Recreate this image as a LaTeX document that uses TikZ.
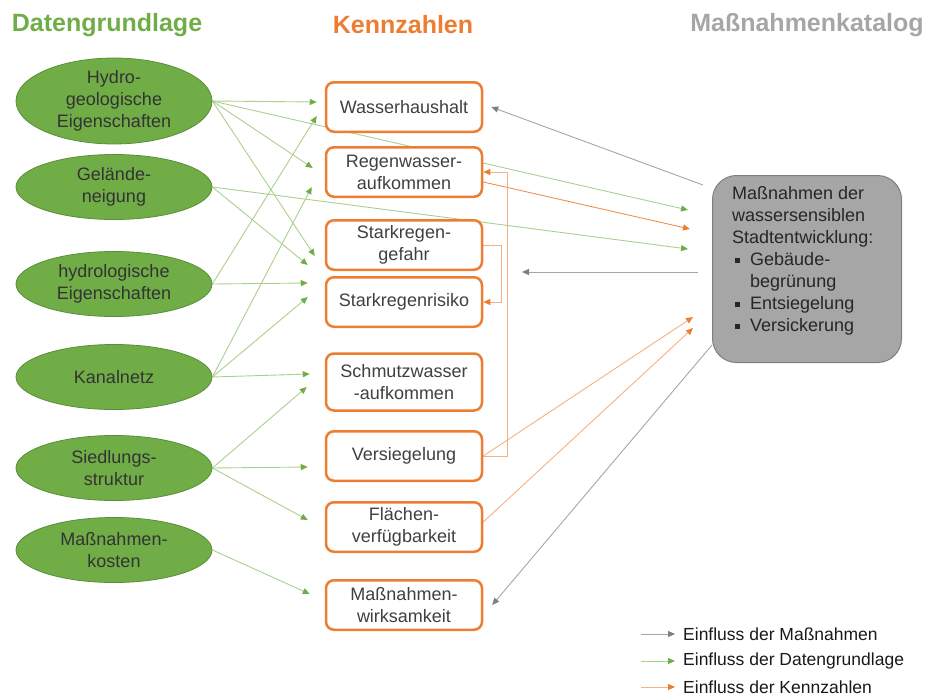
\documentclass[tikz,border=0pt]{standalone}
\usepackage{fontspec}
\setmainfont{Liberation Sans}
\usetikzlibrary{arrows.meta,shapes.geometric,backgrounds}

\definecolor{dgreen}{HTML}{70AD47}
\definecolor{dgreenedge}{HTML}{5A8E38}
\definecolor{dgreenline}{HTML}{A9D18E}
\definecolor{korange}{HTML}{ED7D31}
\definecolor{korangeline}{HTML}{F4B183}
\definecolor{mgray}{HTML}{A6A6A6}
\definecolor{mgraydark}{HTML}{7F7F7F}
\definecolor{txtgray}{HTML}{404040}

\newcommand{\bulsq}{\makebox[18pt][l]{\hspace{3pt}\rule[2.5pt]{5pt}{5pt}}}

\tikzset{
    title/.style={font=\fontsize{25}{30}\selectfont\bfseries},
    data/.style={ellipse, draw=dgreenedge, line width=0.8pt, fill=dgreen,
        minimum width=196pt, minimum height=65pt, inner sep=0pt,
        align=center, text=black!80, font=\fontsize{18}{22}\selectfont},
    kenn/.style={rectangle, rounded corners=8pt, draw=korange, line width=2.5pt,
        fill=white, minimum width=156pt, minimum height=49.5pt, inner sep=0pt,
        align=center, text=txtgray, font=\fontsize{18}{22}\selectfont},
    massbox/.style={rectangle, rounded corners=24pt, draw=mgraydark, line width=1pt,
        fill=mgray, minimum width=189pt, minimum height=187pt},
    masstext/.style={align=left, inner sep=0pt, text=black!85,
        font=\fontsize{18}{22}\selectfont},
    legend/.style={anchor=west, inner sep=0pt, text=black!90,
        font=\fontsize{17.5}{21}\selectfont},
    garrow/.style={draw=dgreenline, line width=0.9pt,
        -{Triangle[length=7pt,width=6pt,color=dgreen]}},
    marrow/.style={draw=mgray, line width=0.9pt,
        -{Triangle[length=7pt,width=6pt,color=mgraydark]}},
    karrow/.style={draw=korangeline, line width=0.9pt,
        -{Triangle[length=7pt,width=6pt,color=korange]}}
}

\begin{document}
\begin{tikzpicture}[x=1pt,y=-1pt]
    \useasboundingbox (0,0) rectangle (939,699);

    % column titles
    \node[title, text=dgreen] (tdaten) at (107,25) {Datengrundlage};
    \node[title, text=korange] (tkenn) at (403,25) {Kennzahlen};
    \node[title, text=mgray] (tmass) at (807,25) {Maßnahmenkatalog};

    % Datengrundlage
    \node[data] (hydro) at (114,101) {Hydro-\\geologische\\Eigenschaften};
    \node[data] (gelaende) at (114,187) {Gelände-\\neigung};
    \node[data] (hydrol) at (114,284) {hydrologische\\Eigenschaften};
    \node[data] (kanal) at (114,377) {Kanalnetz};
    \node[data] (siedl) at (114,468) {Siedlungs-\\struktur};
    \node[data] (kosten) at (114,550) {Maßnahmen-\\kosten};

    % Kennzahlen
    \node[kenn] (wasser) at (404,107) {Wasserhaushalt};
    \node[kenn] (regen) at (404,172) {Regenwasser-\\aufkommen};
    \node[kenn] (gefahr) at (404,245) {Starkregen-\\gefahr};
    \node[kenn] (risiko) at (404,302) {Starkregenrisiko};
    \node[kenn, minimum height=57pt] (schmutz) at (404,382) {Schmutzwasser\\-aufkommen};
    \node[kenn] (versieg) at (404,456) {Versiegelung};
    \node[kenn] (flaechen) at (404,527) {Flächen-\\verfügbarkeit};
    \node[kenn] (wirks) at (404,605) {Maßnahmen-\\wirksamkeit};

    % Massnahmenkatalog
    \node[massbox] (mass) at (807,269) {};
    \node[masstext, anchor=north west] (masstxt) at ([xshift=20pt,yshift=-11pt]mass.north west)
        {Maßnahmen der\\wassersensiblen\\Stadtentwicklung:\\
         \bulsq Gebäude-\\\hspace*{18pt}begrünung\\\bulsq Entsiegelung\\\bulsq Versickerung};
    \coordinate (gap) at (522,272);

    % legend
    \node[legend] (lgmass) at (683,634) {Einfluss der Maßnahmen};
    \node[legend] (lgdaten) at (683,661) {Einfluss der Datengrundlage};
    \node[legend] (lgkenn) at (683,687) {Einfluss der Kennzahlen};
    \draw[marrow] ([xshift=-42pt]lgmass.west) -- ([xshift=-8pt]lgmass.west);
    \draw[garrow] ([xshift=-42pt]lgdaten.west) -- ([xshift=-8pt]lgdaten.west);
    \draw[karrow] ([xshift=-42pt]lgkenn.west) -- ([xshift=-8pt]lgkenn.west);

    \begin{pgfonlayer}{background}
        % Einfluss der Datengrundlage
        \draw[garrow] (hydro.east) -- ([xshift=-8pt,yshift=5pt]wasser.west);
        \draw[garrow] (hydro.east) -- ([xshift=-24pt,yshift=59pt]mass.west);
        \draw[garrow] (hydro.east) -- ([xshift=-12pt,yshift=4pt]regen.west);
        \draw[garrow] (hydro.east) -- ([xshift=-10pt,yshift=-11pt]gefahr.west);
        \draw[garrow] (gelaende.east) -- ([xshift=-24pt,yshift=20pt]mass.west);
        \draw[garrow] (gelaende.east) -- ([xshift=-17pt,yshift=-20pt]gefahr.west);
        \draw[garrow] (hydrol.east) -- ([xshift=-8pt,yshift=-9pt]wasser.west);
        \draw[garrow] (hydrol.east) -- ([xshift=-17pt,yshift=19pt]risiko.west);
        \draw[garrow] (kanal.east) -- ([xshift=-13pt,yshift=-15pt]regen.west);
        \draw[garrow] (kanal.east) -- ([xshift=-17pt,yshift=5pt]risiko.west);
        \draw[garrow] (kanal.east) -- ([xshift=-15pt,yshift=8pt]schmutz.west);
        \draw[garrow] (siedl.east) -- ([xshift=-18pt,yshift=-5pt]schmutz.west);
        \draw[garrow] (siedl.east) -- ([xshift=-17pt,yshift=-11pt]versieg.west);
        \draw[garrow] (siedl.east) -- ([xshift=-17pt,yshift=7pt]flaechen.west);
        \draw[garrow] (kosten.east) -- ([xshift=-15pt,yshift=11pt]wirks.west);

        % Einfluss der Kennzahlen
        \draw[karrow, draw=korange!85] ([yshift=-10pt]regen.east) -- ([xshift=-22pt,yshift=40pt]mass.west);
        \draw[karrow] (gefahr.east) -- ++(18pt,0pt) |- (risiko.east);
        \draw[karrow] (versieg.east) -- ++(24pt,0pt) |- (regen.east);
        \draw[karrow] (versieg.east) -- ([xshift=-19pt,yshift=-48pt]mass.west);
        \draw[karrow] ([yshift=5pt]flaechen.east) -- ([xshift=-19pt,yshift=-59pt]mass.west);

        % Einfluss der Massnahmen
        \draw[marrow] ([xshift=-9pt,yshift=-10pt]mass.north west) -- ([xshift=8pt]wasser.east);
        \draw[marrow] ([xshift=-14pt,yshift=-3pt]mass.west) -- (gap);
        \draw[marrow] ([yshift=18pt]mass.south west) -- ([xshift=9pt]wirks.east);
    \end{pgfonlayer}
\end{tikzpicture}
\end{document}
